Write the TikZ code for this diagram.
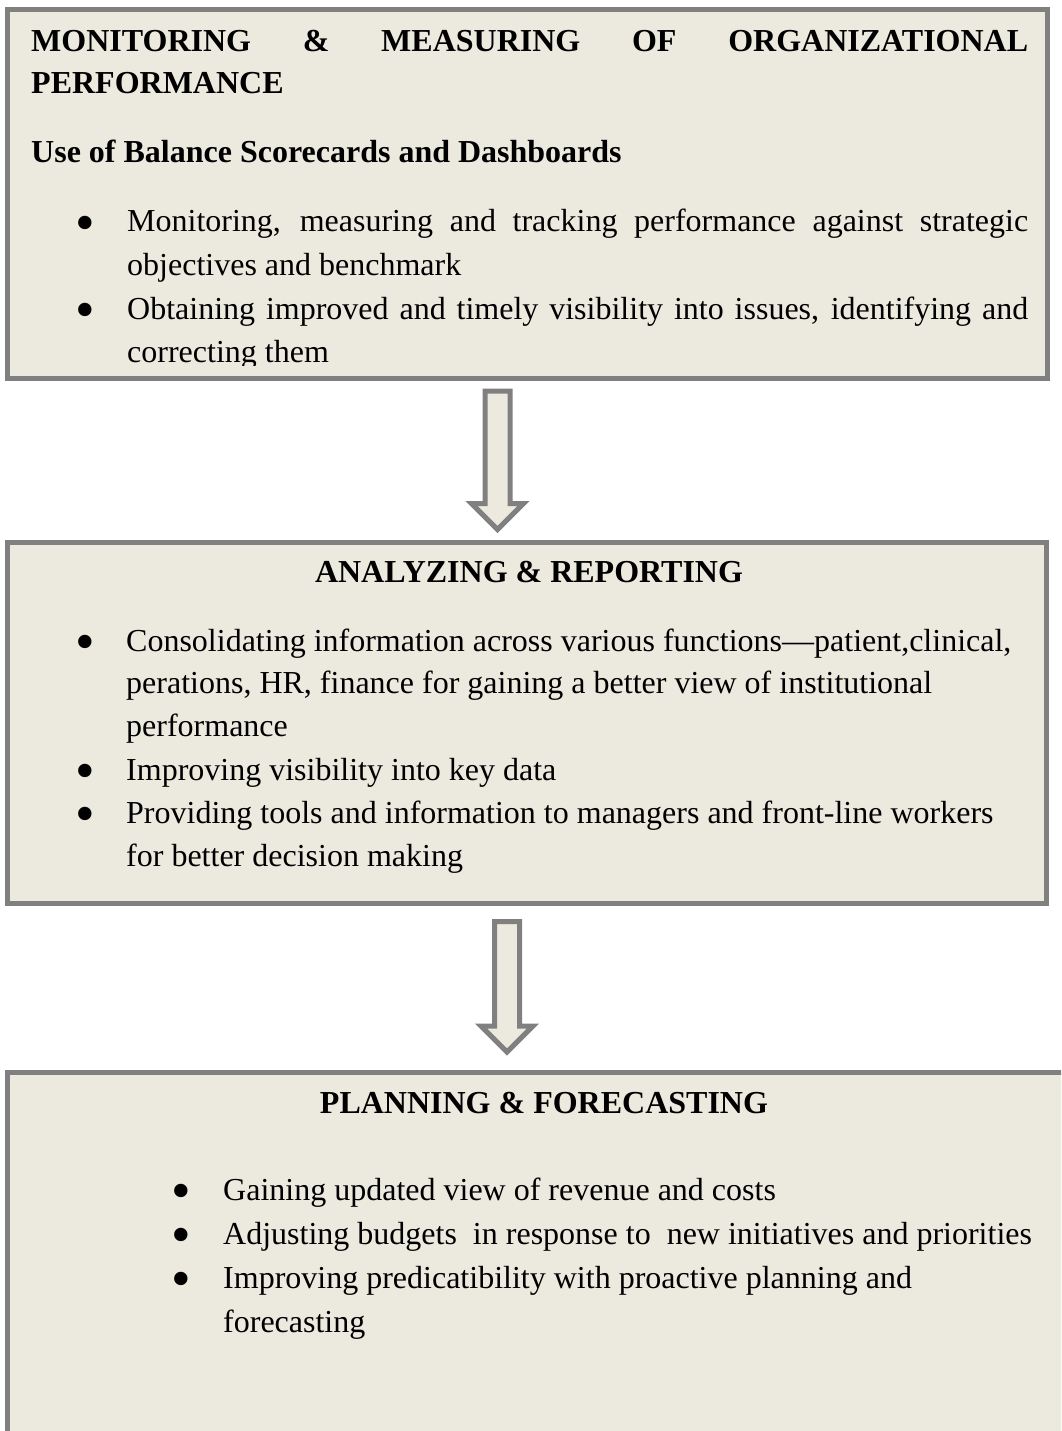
\documentclass[tikz,border=0pt]{standalone}
\usepackage{fontspec}
\setmainfont{Liberation Serif}
\usetikzlibrary{calc}
\definecolor{panelfill}{RGB}{236,233,223}
\definecolor{panelline}{RGB}{128,128,128}
\begin{document}
\begin{tikzpicture}[x=1pt,y=-1pt,
  panel/.style={fill=panelfill, draw=none, inner sep=0pt, outer sep=0pt, anchor=north west},
  frame/.style={draw=panelline, line width=5pt},
  txt/.style={inner sep=0pt, anchor=base west, font=\fontsize{32}{43}\selectfont},
  btxt/.style={inner sep=0pt, anchor=base west, font=\fontsize{32}{43}\selectfont\bfseries},
  head/.style={inner sep=0pt, anchor=base, font=\fontsize{32}{43}\selectfont\bfseries},
  bul/.style={inner sep=0pt, anchor=base, font=\fontsize{56}{56}\selectfont},
  blockarrow/.style={draw=panelline, fill=panelfill, line width=5pt, line join=miter}]
\useasboundingbox (0,0) rectangle (1061,1431);
\clip (0,0) rectangle (1061,1431);

% ---------- box 1 ----------
\node[panel, minimum width=1040pt, minimum height=368.5pt] (b1) at (7.5,9.5) {};
\begin{scope}
\clip (10,12) rectangle (1045,365);
\node[btxt] (t1a) at (31,52) {\makebox[997pt][s]{MONITORING \& MEASURING OF ORGANIZATIONAL}};
\node[btxt] (t1b) at (31,94) {PERFORMANCE};
\node[btxt] (t1c) at (31,163) {Use of Balance Scorecards and Dashboards};
\node[bul] (u1a) at (85,241) {•};
\node[txt] (l1a) at (127,232) {\makebox[901pt][s]{Monitoring, measuring and tracking performance against strategic}};
\node[txt] (l1b) at (127,275) {objectives and benchmark};
\node[bul] (u1b) at (85,328) {•};
\node[txt] (l1c) at (127,319) {\makebox[901pt][s]{Obtaining improved and timely visibility into issues, identifying and}};
\node[txt] (l1d) at (127,362) {correcting them};
\end{scope}
\draw[frame] (b1.north west) rectangle (b1.south east);

% ---------- arrow 1 ----------
\coordinate (a1) at (497.5,391);
\coordinate (a1t) at (497.5,529.5);
\draw[blockarrow] (a1) ++(-12.5,0) -- ++(25,0) -- ++(0,112.5) -- ++(13.5,0) -- (a1t) -- ++(-26,-26) -- ++(13.5,0) -- cycle;

% ---------- box 2 ----------
\node[panel, minimum width=1039pt, minimum height=361pt] (b2) at (7.5,542.5) {};
\node[head] (t2) at (529,582) {ANALYZING \& REPORTING};
\node[bul] (u2a) at (85,660) {•};
\node[txt] (l2a) at (126,651) {Consolidating information across various functions—patient,clinical,};
\node[txt] (l2b) at (126,693) {perations, HR, finance for gaining a better view of institutional};
\node[txt] (l2c) at (126,736) {performance};
\node[bul] (u2b) at (85,789) {•};
\node[txt] (l2d) at (126,780) {Improving visibility into key data};
\node[bul] (u2c) at (85,832) {•};
\node[txt] (l2e) at (126,823) {Providing tools and information to managers and front-line workers};
\node[txt] (l2f) at (126,866) {for better decision making};
\draw[frame] (b2.north west) rectangle (b2.south east);

% ---------- arrow 2 ----------
\coordinate (a2) at (507,921.5);
\coordinate (a2t) at (507,1052);
\draw[blockarrow] (a2) ++(-12.5,0) -- ++(25,0) -- ++(0,104.5) -- ++(13.5,0) -- (a2t) -- ++(-26,-26) -- ++(13.5,0) -- cycle;

% ---------- box 3 ----------
\node[panel, minimum width=1100pt, minimum height=400pt] (b3) at (7.5,1072.5) {};
\node[head] (t3) at (544,1113) {PLANNING \& FORECASTING};
\node[bul] (u3a) at (181,1209) {•};
\node[txt] (l3a) at (223,1200) {Gaining updated view of revenue and costs};
\node[bul] (u3b) at (181,1253) {•};
\node[txt] (l3b) at (223,1244) {Adjusting budgets~ in response to~ new initiatives and priorities};
\node[bul] (u3c) at (181,1297) {•};
\node[txt] (l3c) at (223,1288) {Improving predicatibility with proactive planning and};
\node[txt] (l3d) at (223,1332) {forecasting};
\draw[frame] (b3.north west) rectangle (b3.south east);
\end{tikzpicture}
\end{document}
